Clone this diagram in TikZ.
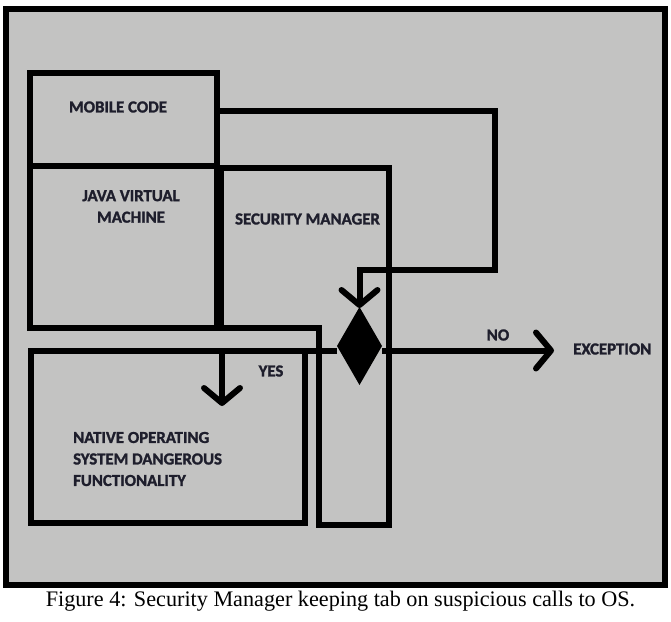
\documentclass[tikz,border=0pt]{standalone}
\usepackage{fontspec}
\usepackage{tikz}
\usetikzlibrary{shapes.geometric,arrows.meta,positioning,calc}
\newfontfamily\lblfont{Carlito}[BoldFeatures={FakeBold=1.5}]
\newfontfamily\capfont{Liberation Serif}
\definecolor{panelgray}{RGB}{195,195,194}
\definecolor{lbltext}{RGB}{30,30,44}

\begin{document}
\begin{tikzpicture}[x=1pt,y=-1pt,
    box/.style={draw,line width=6pt,outer sep=0pt,inner sep=0pt},
    decision/.style={diamond,fill=black,draw=none,inner sep=0pt,outer sep=0pt,
                     minimum width=45pt,minimum height=78pt},
    lbl/.style={font=\lblfont\bfseries\fontsize{16.8}{21.5}\selectfont,
                text=lbltext,inner sep=0pt},
    flow/.style={line width=6pt,-{Straight Barb[length=15pt,width=36pt,round]}}]
    \useasboundingbox (0,0) rectangle (671,621);

    % Outer frame
    \draw[line width=6pt,fill=panelgray] (5.5,9) rectangle (664.5,585);

    % Boxes
    \node[box,minimum width=186.5pt,minimum height=93pt] (mob) at (123.25,119) {};
    \node[box,minimum width=186.5pt,minimum height=162pt] (jvm) at (123.25,246.5) {};
    \node[box,minimum width=274pt,minimum height=172pt] (nat) at (167.5,436.5) {};
    % Security manager (L-shaped)
    \draw[line width=6pt,line join=miter]
        (221,168) -- (388.5,168) -- (388.5,524.5) -- (318.5,524.5)
        -- (318.5,327.5) -- (221,327.5) -- cycle;

    % Labels
    \node[lbl] (mobtxt) at (118,107) {MOBILE CODE};
    \node[lbl,align=center] (jvmtxt) at (131,206.5) {JAVA VIRTUAL\\MACHINE};
    \node[lbl] (smtxt) at (307.5,219) {SECURITY MANAGER};
    \node[lbl,align=left,anchor=west] (nattxt) at (73,459)
        {NATIVE OPERATING\\SYSTEM DANGEROUS\\FUNCTIONALITY};
    \node[lbl,anchor=west] (exc) at (573,349) {EXCEPTION};
    \node[lbl] (no) at (498,335) {NO};
    \node[lbl] (yes) at (271,371) {YES};

    % Decision
    \node[decision] (dmd) at (359.5,346) {};
    \coordinate (bend) at (494.5,269.5);
    \coordinate (yesend) at (222,406);

    % Calls
    \draw[flow,line join=miter] ([yshift=8.5pt]mob.east) -| (bend) -| ([yshift=-1pt]dmd.north);
    \draw[flow] (dmd.west |- nat.north) -| (yesend);
    \draw[flow] (dmd.east |- nat.north) -- ([xshift=-19pt]exc.west |- nat.north);

    % Caption
    \node[font=\capfont\fontsize{22.2}{26}\selectfont] (cap) at (340.5,601)
        {Figure 4: Security Manager keeping tab on suspicious calls to OS.};
\end{tikzpicture}
\end{document}
